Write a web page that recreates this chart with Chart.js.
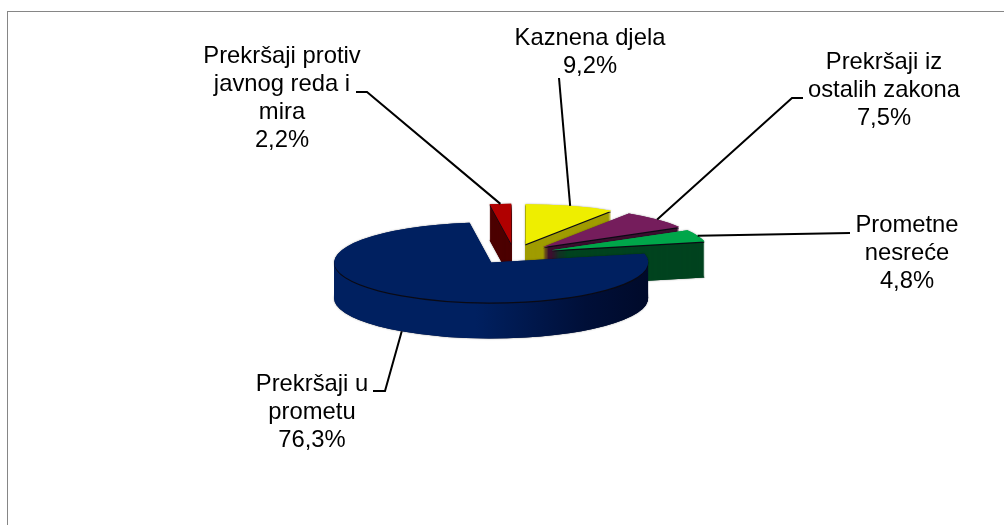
<!DOCTYPE html>
<html>
<head>
<meta charset="utf-8">
<script src="https://cdn.jsdelivr.net/npm/chart.js@4"></script>
<style>
    body { margin: 0; background: #ffffff; }
    canvas { display: block; }
</style>
</head>
<body>
<canvas id="myChart" width="1004" height="525"></canvas>
<script>
const categories = ["Kaznena djela", "Prekršaji iz ostalih zakona", "Prometne nesreće", "Prekršaji u prometu", "Prekršaji protiv javnog reda i mira"];
const values = [9.2, 7.5, 4.8, 76.3, 2.2];

// how each category wraps in its label
const labelLines = [
    ["Kaznena djela"],
    ["Prekršaji iz", "ostalih zakona"],
    ["Prometne", "nesreće"],
    ["Prekršaji u", "prometu"],
    ["Prekršaji protiv", "javnog reda i", "mira"]
];

const topColors = ["#eeee00", "#751d5c", "#00a64a", "#002060", "#b00000"];
const wallColors = ["#a09c00", "#3c0f30", "#00431f", null, "#4d0000"];
const navyWallStops = [[0, "#002060"], [0.45, "#002060"], [0.8, "#000f38"], [1, "#000a2a"]];

const radius = 157;
const tilt = 0.255;     // vertical squash of the pie
const depth = 36;       // height of the walls
const explode = 40;     // how far the slices are pulled out
const drawOrder = [4, 0, 1, 2, 3];

// label centre and the leader's points after the slice anchor
const labelPos = [
    { x: 590, y: 38, leader: [[559, 78]] },
    { x: 884, y: 62, leader: [[792, 98], [803, 98]] },
    { x: 907, y: 225, leader: [[850, 233]] },
    { x: 312, y: 384, leader: [[385, 391], [373, 391]] },
    { x: 282, y: 56, leader: [[367, 92], [356, 92]] }
];

const lineHeight = 28.3;

const percentText = (v) => v.toFixed(1).replace(".", ",") + "%";

// draw one arc through its own element, squashed and moved
function drawSlice(ctx, arc, drop, color) {
    let half = (arc.startAngle + arc.endAngle) / 2;
    ctx.save();
    ctx.translate(arc.x, arc.y + drop);
    ctx.scale(1, tilt);
    ctx.translate(-arc.x, -arc.y);
    ctx.translate(Math.cos(half) * explode, Math.sin(half) * explode);
    let face = Object.create(arc);
    face.options = Object.create(arc.options);
    face.options.backgroundColor = color;
    face.options.borderColor = color;
    face.options.borderWidth = 0;
    arc.draw.call(face, ctx);
    ctx.restore();
}

const pie3d = {
    id: "pie3d",
    beforeDatasetsDraw(chart) {
        const ctx = chart.ctx;
        const arcs = chart.getDatasetMeta(0).data;

        drawOrder.forEach((i) => {
            let arc = arcs[i];
            let wall = wallColors[i];
            if (!wall) {
                wall = ctx.createLinearGradient(arc.x - radius, 0, arc.x + radius, 0);
                navyWallStops.forEach((s) => wall.addColorStop(s[0], s[1]));
            }
            // soft edge around the whole block
            ctx.save();
            ctx.shadowColor = "rgba(0,0,0,0.45)";
            ctx.shadowBlur = 2;
            drawSlice(ctx, arc, depth, i === 3 ? "#000f38" : wallColors[i]);
            drawSlice(ctx, arc, 0, topColors[i]);
            ctx.restore();

            for (let k = depth; k >= 1; k--) {
                drawSlice(ctx, arc, k, wall);
            }
            drawSlice(ctx, arc, 1.3, "#0a0a14");
            drawSlice(ctx, arc, 0, topColors[i]);
        });

        drawLabels(chart, arcs);
        return false;
    }
};

function drawLabels(chart, arcs) {
    const ctx = chart.ctx;

    // leaders start on the middle of each slice's outer edge
    ctx.save();
    ctx.strokeStyle = "#000000";
    ctx.lineWidth = 2;
    arcs.forEach((arc, i) => {
        let half = (arc.startAngle + arc.endAngle) / 2;
        let px = arc.x + Math.cos(half) * (radius + explode);
        let py = arc.y + Math.sin(half) * (radius + explode) * tilt;
        if (Math.sin(half) > 0) py += depth;   // front slice, line leaves the wall
        ctx.beginPath();
        ctx.moveTo(px, py);
        labelPos[i].leader.forEach((p) => ctx.lineTo(p[0], p[1]));
        ctx.stroke();
    });
    ctx.restore();

    ctx.save();
    ctx.fillStyle = "#000000";
    ctx.font = "23.8px 'Liberation Sans', Arial, sans-serif";
    ctx.textAlign = "center";
    ctx.textBaseline = "middle";
    labelLines.forEach((lines, i) => {
        let rows = lines.concat(percentText(values[i]));
        rows.forEach((row, r) => {
            ctx.fillText(row, labelPos[i].x, labelPos[i].y + r * lineHeight);
        });
    });
    ctx.restore();
}

const frame = {
    id: "frame",
    beforeDraw(chart) {
        const ctx = chart.ctx;
        ctx.save();
        ctx.strokeStyle = "#868686";
        ctx.lineWidth = 1;
        ctx.strokeRect(7.5, 11.5, 1200, 800);
        ctx.restore();
    }
};

const myChart = new Chart(document.getElementById("myChart"), {
    type: "pie",
    data: {
        labels: categories,
        datasets: [
            {
                data: values,
                backgroundColor: topColors,
                borderWidth: 0,
                radius: radius
            }
        ]
    },
    options: {
        responsive: false,
        animation: false,
        layout: { padding: { left: 24, bottom: 17 } },
        plugins: {
            legend: { display: false },
            tooltip: { enabled: false }
        }
    },
    plugins: [frame, pie3d]
});
</script>
</body>
</html>
